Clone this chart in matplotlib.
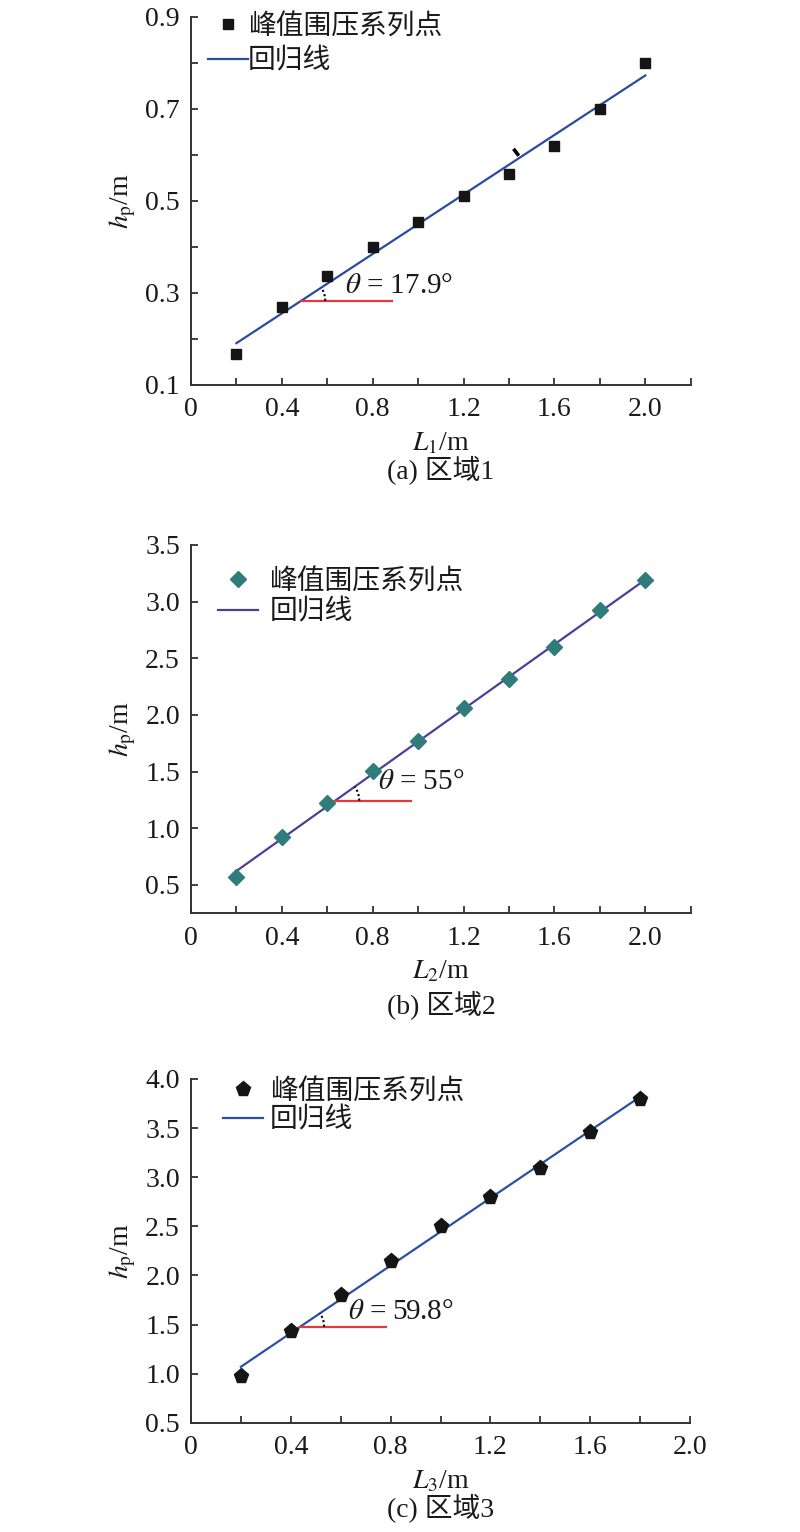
import numpy as np
import matplotlib
matplotlib.use('Agg')
import matplotlib.pyplot as plt

plt.rcParams['font.family'] = ['Liberation Serif', 'Noto Sans CJK SC']
plt.rcParams['mathtext.fontset'] = 'stix'
plt.rcParams['font.size'] = 20
plt.rcParams['text.color'] = '#1a1a1a'
plt.rcParams['axes.labelcolor'] = '#1a1a1a'
plt.rcParams['xtick.color'] = '#333333'
plt.rcParams['ytick.color'] = '#333333'
plt.rcParams['xtick.labelcolor'] = '#1a1a1a'
plt.rcParams['ytick.labelcolor'] = '#1a1a1a'

# data
L1 = [0.2, 0.4, 0.6, 0.8, 1.0, 1.2, 1.4, 1.6, 1.8, 2.0]
h1 = [0.167, 0.270, 0.336, 0.400, 0.454, 0.510, 0.559, 0.620, 0.700, 0.800]
L2 = [0.2, 0.4, 0.6, 0.8, 1.0, 1.2, 1.4, 1.6, 1.8, 2.0]
h2 = [0.573, 0.926, 1.226, 1.503, 1.768, 2.060, 2.315, 2.600, 2.924, 3.190]
L3 = [0.2, 0.4, 0.6, 0.8, 1.0, 1.2, 1.4, 1.6, 1.8]
h3 = [0.973, 1.436, 1.797, 2.142, 2.500, 2.797, 3.095, 3.456, 3.800]
angles = ['17.9', '55', '59.8']
captions = ['(a) 区域1', '(b) 区域2', '(c) 区域3']
xlabels = [r'$L_1$/m', r'$L_2$/m', r'$L_3$/m']
ylabel = r'$h_\mathrm{p}$/m'
pt_label = '峰值围压系列点'
fit_label = '回归线'

W, H = 800, 1532
fig = plt.figure(figsize=(W / 100, H / 100), dpi=100)


def px_rect(left, right, top, bottom):
    return [left / W, 1 - bottom / H, (right - left) / W, (bottom - top) / H]


def draw_angle(ax, x0, y0, slope, r=24):
    p0 = ax.transData.transform((x0, y0))
    p1 = ax.transData.transform((x0 + 1, y0 + slope))
    phi = np.arctan2(p1[1] - p0[1], p1[0] - p0[0])
    t = np.linspace(0, phi, 30)
    pts = np.column_stack([p0[0] + r * np.cos(t), p0[1] + r * np.sin(t)])
    d = ax.transData.inverted().transform(pts)
    ax.plot(d[:, 0], d[:, 1], ls=(0, (1, 1.2)), color='k', lw=1.5)


panels = [
    dict(x=L1, y=h1, rect=px_rect(191, 690.7, 16.7, 385), xlim=(0, 2.2), ylim=(0.1, 0.9),
         yt=np.arange(0.1, 0.91, 0.2), ytl=['0.1', '0.3', '0.5', '0.7', '0.9'],
         ymin=np.arange(0.2, 0.81, 0.2), marker='s', ms=7.5, mc='#151515', lc='#2b4aa0',
         red_y=0.283, red_end=0.887, tx=0.678, ty=0.314,
         leg=(207.7, 13.5, 0.0, 0.32), caption_y=470),
    dict(x=L2, y=h2, rect=px_rect(191, 690.7, 545, 913.3), xlim=(0, 2.2), ylim=(0.25, 3.5),
         yt=np.arange(0.5, 3.51, 0.5), ytl=['0.5', '1.0', '1.5', '2.0', '2.5', '3.0', '3.5'],
         ymin=[], marker='D', ms=8.5, mc='#2f7c7a', lc='#4b3f9c',
         red_y=1.244, red_end=0.968, tx=0.822, ty=1.406,
         leg=(217.7, 569, 0.42, 0.15), caption_y=1005),
    dict(x=L3, y=h3, rect=px_rect(191, 690, 1079, 1422.7), xlim=(0, 2.0), ylim=(0.5, 4.0),
         yt=np.arange(0.5, 4.01, 0.5), ytl=['0.5', '1.0', '1.5', '2.0', '2.5', '3.0', '3.5', '4.0'],
         ymin=[], marker='p', ms=11, mc='#151515', lc='#2b50a8',
         red_y=1.477, red_end=0.780, tx=0.628, ty=1.626,
         leg=(223.3, 1079, 0.24, 0.08), caption_y=1508),
]

for i, p in enumerate(panels):
    ax = fig.add_axes(p['rect'])
    ax.set_xlim(*p['xlim'])
    ax.set_ylim(*p['ylim'])
    for s in ['top', 'right']:
        ax.spines[s].set_visible(False)
    for s in ['left', 'bottom']:
        ax.spines[s].set_linewidth(1.4)
        ax.spines[s].set_color('#333333')

    xmaj = np.arange(0, p['xlim'][1] + 0.01, 0.4)
    ax.set_xticks(xmaj, ['0'] + ['%.1f' % v for v in xmaj[1:]])
    ax.set_xticks(np.arange(0.2, p['xlim'][1] + 0.01, 0.4), minor=True)
    ax.set_yticks(p['yt'], p['ytl'])
    ax.set_yticks(p['ymin'], minor=True)
    ax.tick_params(which='both', direction='in', length=5, width=1.3, top=False, right=False)
    ax.tick_params(axis='y', which='both', pad=8)
    ax.tick_params(axis='x', which='both', pad=9)

    x = np.array(p['x'])
    y = np.array(p['y'])
    m, b = np.polyfit(x, y, 1)
    xf = np.array([x.min(), x.max()])
    ax.plot(x, y, ls='none', marker=p['marker'], ms=p['ms'], color=p['mc'], label=pt_label, zorder=3)
    ax.plot(xf, m * xf + b, color=p['lc'], lw=1.6, label=fit_label, zorder=2)

    x0 = (p['red_y'] - b) / m
    ax.plot([x0, p['red_end']], [p['red_y'], p['red_y']], color='#e23a3c', lw=1.6, zorder=2)
    draw_angle(ax, x0, p['red_y'], m)
    ax.text(p['tx'], p['ty'], r'$\theta$ = ' + angles[i] + '°', fontsize=21, va='center', ha='left')

    if i == 0:
        # small black tick mark near x=1.43
        ax.plot([1.42, 1.443], [0.613, 0.598], color='k', lw=2.6, solid_capstyle='butt', zorder=3)

    lx, ly, tpad, lsp = p['leg']
    ax.legend(loc='upper left', bbox_to_anchor=(lx / W, 1 - ly / H), bbox_transform=fig.transFigure,
              frameon=False, borderpad=0, borderaxespad=0, handlelength=1.44,
              handletextpad=tpad, labelspacing=lsp, fontsize=20)

    ax.set_ylabel(ylabel, labelpad=5)
    ax.set_xlabel(xlabels[i])
    ax.xaxis.set_label_coords(0.5, -46 / (p['rect'][3] * H))
    fig.text(441 / W, 1 - p['caption_y'] / H, captions[i], ha='center', va='center', fontsize=20)

fig.savefig('out.png', dpi=100)
